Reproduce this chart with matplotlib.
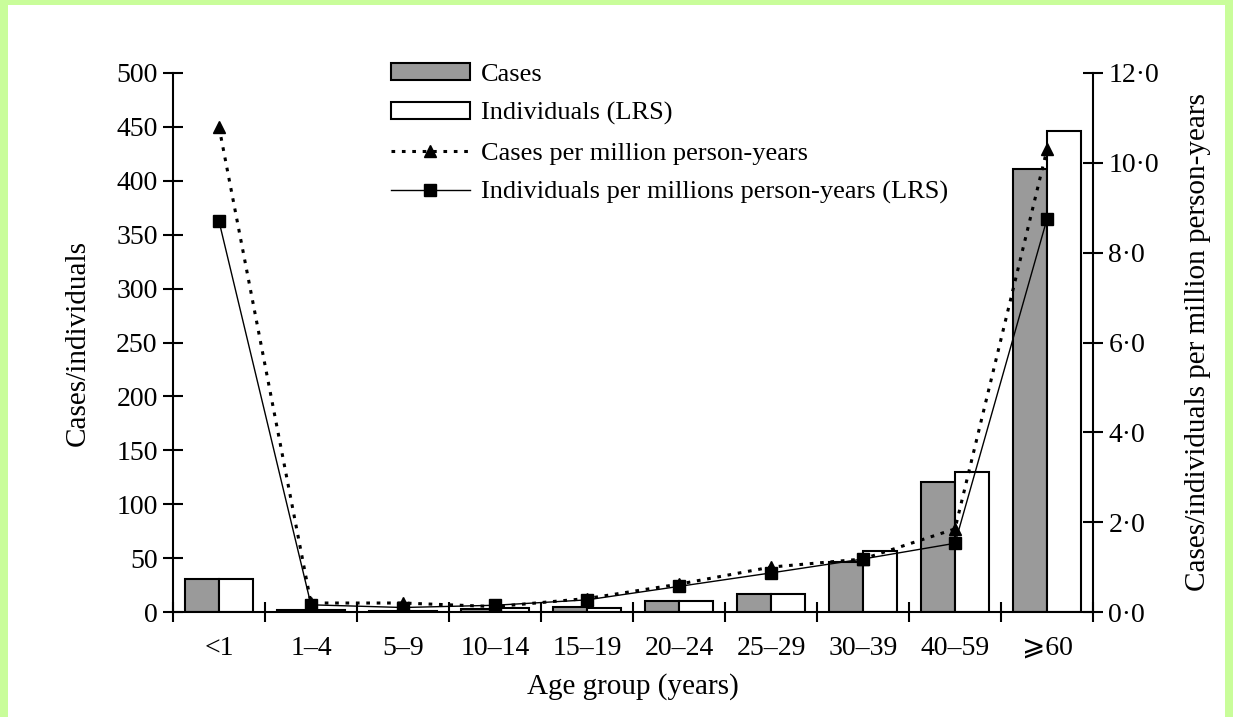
import numpy as np
import matplotlib
matplotlib.use('Agg')
import matplotlib.pyplot as plt
from matplotlib.patches import Rectangle

# Data
age_groups = ['<1', '1–4', '5–9', '10–14', '15–19', '20–24', '25–29', '30–39', '40–59', '⩾60']
cases = [31, 2, 1, 3, 5, 10, 17, 46, 121, 411]
individuals = [31, 2, 1, 4, 4, 10, 17, 57, 130, 446]
cases_rate = [10.8, 0.2, 0.2, 0.12, 0.3, 0.62, 1.0, 1.18, 1.85, 10.3]
indiv_rate = [8.7, 0.16, 0.1, 0.15, 0.27, 0.57, 0.87, 1.18, 1.53, 8.75]

left_ticks = np.arange(0, 501, 50)
right_ticks = np.arange(0, 12.1, 2)

plt.rcParams['font.family'] = ['Liberation Serif', 'DejaVu Serif', 'DejaVu Sans']

fig = plt.figure(figsize=(12.33, 7.17), dpi=100)
fig.patch.set_facecolor('#c9fd9a')
# white inner panel (green frame round the edge)
fig.patches.append(Rectangle((8 / 1233, 0), 1 - 16 / 1233, 1 - 5 / 717,
                             transform=fig.transFigure, facecolor='white',
                             edgecolor='none', zorder=-10))

ax = fig.add_axes([173 / 1233, 1 - 612 / 717, 920 / 1233, 539 / 717])
ax.patch.set_alpha(0)
x = np.arange(len(age_groups))
w = 0.37

b1 = ax.bar(x - w / 2, cases, w, color='#9a9a9a', edgecolor='black', linewidth=1.5, label='Cases')
b2 = ax.bar(x + w / 2, individuals, w, color='white', edgecolor='black', linewidth=1.5,
            label='Individuals (LRS)')

ax.set_xlim(-0.5, len(age_groups) - 0.5)
ax.set_ylim(0, 500)
ax.set_yticks(left_ticks)
ax.tick_params(axis='y', direction='inout', length=14, width=1.5, labelsize=20, pad=4)
ax.set_xticks(np.arange(-0.5, len(age_groups)))
ax.set_xticklabels([])
ax.tick_params(axis='x', which='major', direction='inout', length=14, width=1.5)
ax.set_xticks(x, minor=True)
ax.set_xticklabels(age_groups, minor=True)
ax.tick_params(axis='x', which='minor', length=0, labelsize=20, pad=17)
for s in ['top', 'right']:
    ax.spines[s].set_visible(False)
for s in ['left', 'bottom']:
    ax.spines[s].set_linewidth(1.5)
ax.set_ylabel('Cases/individuals', fontsize=21, labelpad=18)
ax.set_xlabel('Age group (years)', fontsize=21, labelpad=9)

ax2 = ax.twinx()
l1, = ax2.plot(x, cases_rate, linestyle=(0, (1.2, 2.2)), color='black', linewidth=2.2,
               marker='^', markersize=9, label='Cases per million person-years')
l2, = ax2.plot(x, indiv_rate, linestyle='-', color='black', linewidth=1.0,
               marker='s', markersize=8, label='Individuals per millions person-years (LRS)')
ax2.set_ylim(0, 12)
ax2.set_yticks(right_ticks)
ax2.set_yticklabels([f'{v:.1f}'.replace('.', '·') for v in right_ticks])
ax2.tick_params(axis='y', direction='inout', length=14, width=1.5, labelsize=20, pad=4)
for s in ['top', 'left', 'bottom']:
    ax2.spines[s].set_visible(False)
ax2.spines['right'].set_linewidth(1.5)
ax2.set_ylabel('Cases/individuals per million person-years', fontsize=21, labelpad=19)

ax2.legend([b1, b2, l1, l2],
           ['Cases', 'Individuals (LRS)', 'Cases per million person-years',
            'Individuals per millions person-years (LRS)'],
           loc='upper left', bbox_to_anchor=(0.211, 1.062), frameon=False, fontsize=19,
           handlelength=3.0, handleheight=0.6, handletextpad=0.4, labelspacing=0.62)

fig.savefig('out.png', dpi=100, facecolor=fig.get_facecolor())
